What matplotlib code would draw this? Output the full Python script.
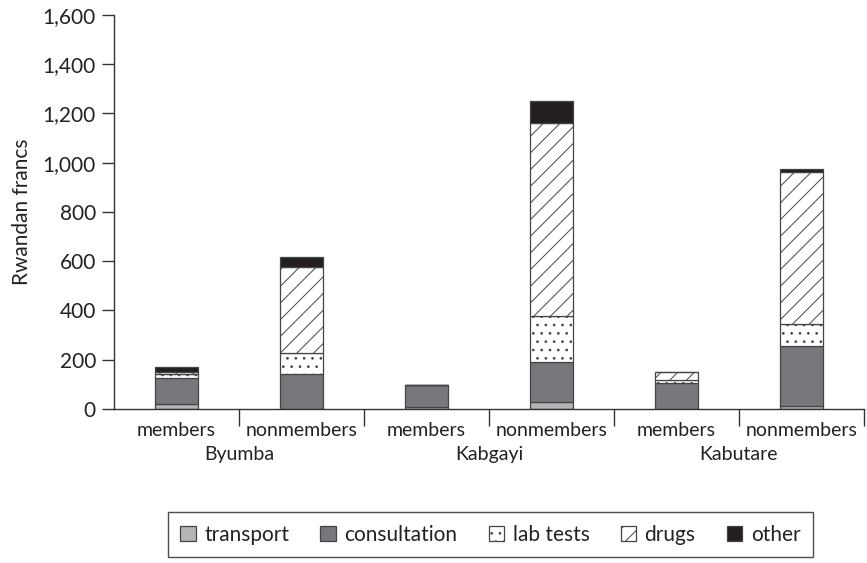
import numpy as np
import matplotlib.pyplot as plt
from matplotlib.patches import Patch
from matplotlib.ticker import FuncFormatter

plt.rcParams['font.family'] = ['Lato', 'DejaVu Sans']
plt.rcParams['hatch.linewidth'] = 0.7
plt.rcParams['hatch.color'] = '#333333'

# Average cost per episode, by district and membership status
districts = ['Byumba', 'Kabgayi', 'Kabutare']
groups = ['members', 'nonmembers'] * 3

transport    = [22, 0, 8, 28, 0, 14]
consultation = [104, 142, 88, 163, 104, 242]
lab_tests    = [16, 87, 0, 188, 14, 88]
drugs        = [10, 346, 0, 781, 34, 620]
other        = [18, 43, 0, 92, 0, 11]

components = ['transport', 'consultation', 'lab tests', 'drugs', 'other']
series = [transport, consultation, lab_tests, drugs, other]
colors = ['#b4b5b7', '#77787b', 'white', 'white', '#231f20']
hatches = [None, None, '..', '//', None]

fig = plt.figure(figsize=(8.67, 5.63), dpi=100)
ax = fig.add_axes([0.1315, 0.2735, 0.865, 0.70])

x = np.arange(len(groups))
bottom = np.zeros(len(groups))
for vals, col, h in zip(series, colors, hatches):
    vals = np.array(vals, dtype=float)
    ax.bar(x, vals, width=0.34, bottom=bottom, color=col, hatch=h,
           edgecolor='#444444', linewidth=0.9)
    bottom += vals

ax.set_xlim(-0.5, 5.5)
ax.set_ylim(0, 1600)
ax.set_yticks(np.arange(0, 1601, 200))
ax.yaxis.set_major_formatter(FuncFormatter(lambda v, p: f'{int(v):,}'))
ax.set_ylabel('Rwandan francs', fontsize=15, color='#222222', labelpad=8)

for s in ['top', 'right']:
    ax.spines[s].set_visible(False)
for s in ['left', 'bottom']:
    ax.spines[s].set_color('#333333')
    ax.spines[s].set_linewidth(1.0)

ax.tick_params(axis='y', direction='out', length=9, width=1.0, color='#333333',
               labelsize=15, labelcolor='#222222', pad=4)
ax.set_xticks(np.arange(0.5, 6, 1.0))
ax.set_xticklabels([])
ax.tick_params(axis='x', direction='out', length=12, width=1.0, color='#333333')

# category and district labels under the axis
trans = ax.get_xaxis_transform()
for xi, g in zip(x, groups):
    ax.text(xi, -0.032, g, transform=trans, ha='center', va='top',
            fontsize=14, color='#222222')
for i, d in enumerate(districts):
    ax.text(2 * i + 0.5, -0.095, d, transform=trans, ha='center', va='top',
            fontsize=14, color='#222222')

handles = [Patch(facecolor=c, edgecolor='#444444', hatch=h, linewidth=0.9)
           for c, h in zip(colors, hatches)]
leg = fig.legend(handles, components, loc='center', ncol=5,
                 bbox_to_anchor=(0.5655, 0.05), frameon=True, fancybox=False,
                 fontsize=15, handlelength=0.75, handleheight=0.75,
                 handletextpad=0.4, columnspacing=1.5, borderpad=0.6)
leg.get_frame().set_edgecolor('#222222')
leg.get_frame().set_linewidth(1.0)
for t in leg.get_texts():
    t.set_color('#222222')

fig.savefig('out.png', dpi=100)
